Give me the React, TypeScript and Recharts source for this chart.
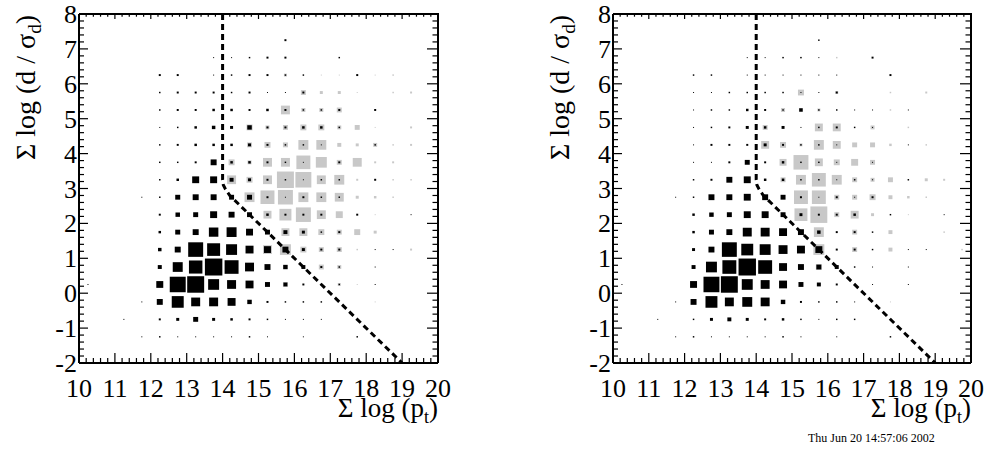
import React from 'react'
import { ScatterChart, Scatter, XAxis, YAxis } from 'recharts'

const FONT = '"Liberation Serif", "Times New Roman", serif'

// bin centres of the 20 x 20 histogram; rows run from the top (7.25) down
const xCenters = [10.25, 10.75, 11.25, 11.75, 12.25, 12.75, 13.25, 13.75, 14.25, 14.75, 15.25, 15.75, 16.25, 16.75, 17.25, 17.75, 18.25, 18.75, 19.25, 19.75]
const yCenters = [7.25, 6.75, 6.25, 5.75, 5.25, 4.75, 4.25, 3.75, 3.25, 2.75, 2.25, 1.75, 1.25, 0.75, 0.25, -0.25, -0.75, -1.25]

const xLabels = [10, 11, 12, 13, 14, 15, 16, 17, 18, 19, 20]
const yLabels = [-2, -1, 0, 1, 2, 3, 4, 5, 6, 7, 8]

// box size per bin (FULL = box fills the whole bin)
const FULL = 18

const leftSig = [
  [0, 0, 0, 0, 0, 0, 0, 0, 0, 0, 0, 2, 0, 0, 0, 0, 0, 0, 0, 0],
  [0, 0, 0, 0, 0, 0, 0, 1, 1, 1.5, 2, 2, 0, 0, 1.5, 0, 0, 0, 0, 0],
  [0, 0, 0, 0, 2, 2, 0, 1, 1.5, 2, 2, 1.5, 1.5, 0, 0, 2, 0, 0, 0, 0],
  [0, 0, 0, 0, 1.5, 2, 2, 2, 1.5, 2, 1, 1, 2, 0, 0, 0, 0, 0, 0, 0],
  [0, 0, 0, 0, 1.5, 2, 2, 2.5, 2.5, 2, 2.5, 2, 1.5, 1.5, 2, 0, 2, 0, 0, 0],
  [0, 0, 0, 0, 1, 1.5, 2.5, 3.5, 3, 4.5, 2, 2, 2.5, 2.5, 1.5, 0, 0, 0, 0, 0],
  [0, 0, 0, 0, 1.5, 2, 2.5, 2.5, 2.5, 3, 2, 1.5, 1.5, 1, 0, 0, 1.5, 0, 0, 0],
  [0, 0, 0, 0, 1.5, 1.5, 2, 6, 2.5, 2.5, 2, 1.5, 1, 0, 2, 0, 0, 0, 0, 0],
  [0, 0, 0, 0, 1.5, 2.5, 7, 7, 4, 3, 2, 1.5, 1, 1.5, 1.5, 0, 2, 0, 0, 0],
  [0, 0, 0, 1, 1.5, 5, 6, 6, 5, 5, 2, 1, 2, 1.5, 1.5, 0, 0, 0, 0, 0],
  [0, 0, 0, 0, 2, 4.5, 5, 7, 6, 5, 2.5, 2, 2, 2, 0, 2, 0, 0, 1, 0],
  [0, 0, 0, 0, 2.5, 5, 6, 9.5, 10, 7, 5, 4, 3, 1.5, 2, 0, 0, 0, 0, 0],
  [0, 0, 0, 0, 3.5, 6, 15, 13, 11, 8, 7, 6, 3, 2, 2, 0, 1, 1, 0, 0],
  [0, 0, 0, 0, 4, 10, 13.5, 17.5, 14, 9, 6, 4.5, 4, 2, 1.5, 0, 1, 0, 0, 0],
  [1, 0, 0, 0, 7, 16, 17, 11, 9, 8, 5, 4, 2, 1.5, 1.5, 0, 1, 0, 0, 0],
  [0, 0, 0, 1, 6, 12, 9, 9, 8, 4.5, 2, 1.5, 1.5, 1.5, 0, 0, 0, 0, 0, 0],
  [0, 0, 1, 0, 2, 3, 5, 3, 2.5, 2, 1.5, 1, 1, 1, 0, 0, 0, 0, 0, 0],
  [0, 0, 0, 1, 1.5, 1, 1, 1, 1, 1.5, 1, 0, 1, 0, 0, 1.5, 0, 0, 0, 0],
]

const leftBkg = [
  [0, 0, 0, 0, 0, 0, 0, 0, 0, 0, 0, 0, 0, 0, 0, 0, 0, 0, 0, 0],
  [0, 0, 0, 0, 0, 0, 0, 0, 0, 0, 0, 0, 0, 0, 0, 0, 0, 0, 0, 0],
  [0, 0, 0, 0, 0, 0, 0, 0, 0, 0, 0, 3, 0, 1, 1, 0, 1, 1.5, 0, 0],
  [0, 0, 0, 0, 0, 0, 0, 0, 0, 0, 0, 0, 5, 3, 3, 1, 0, 1.5, 2, 0],
  [0, 0, 0, 0, 0, 0, 0, 0, 0, 0, 0, 9, 4, 4, 5, 0, 0, 0, 0, 0],
  [0, 0, 0, 0, 0, 0, 0, 0, 0, 6, 4, 5, 6, 6, 4, 5, 1, 0, 2, 0],
  [0, 0, 0, 0, 0, 0, 0, 0, 0, 5, 6, 5, 10, 10, 4, 3, 4, 1.5, 2, 0],
  [0, 0, 0, 0, 0, 0, 0, 0, 6, 4, 9, 9, 14, 11, 5, 9, 2, 2, 0, 0],
  [0, 0, 0, 0, 0, 0, 0, 0, 9, 6, 9, 17, 16, 9, 10, 2, 0, 1.5, 1.5, 0],
  [0, 0, 0, 0, 0, 0, 0, 0, 0, 10, 14, 15, 10, 10, 9, 3, 2.5, 1.5, 0, 0],
  [0, 0, 0, 0, 0, 0, 0, 0, 0, 0, 8, 12, 15, 9, 7, 0, 1, 0, 0, 0],
  [0, 0, 0, 0, 0, 0, 0, 0, 0, 0, 0, 8, 8, 6, 5, 6, 3, 0, 0, 0],
  [0, 0, 0, 0, 0, 0, 0, 0, 0, 0, 9, 11, 6, 5, 5, 1.5, 0, 0, 2, 0],
  [0, 0, 0, 0, 0, 0, 0, 0, 0, 0, 0, 0, 0, 5, 4, 0, 0, 0, 0, 0],
  [0, 0, 0, 0, 0, 0, 0, 0, 0, 0, 0, 5, 0, 0, 3, 1, 0, 0, 0, 0],
  [0, 0, 0, 0, 0, 0, 0, 0, 0, 0, 0, 0, 0, 0, 0, 0, 1, 0, 0, 0],
  [0, 0, 0, 0, 0, 0, 0, 0, 0, 0, 0, 0, 0, 0, 0, 0, 0, 0, 0, 0],
  [0, 0, 0, 0, 0, 0, 0, 0, 0, 0, 0, 0, 0, 0, 0, 0, 0, 0, 0, 0],
]

const rightSig = [
  [0, 0, 0, 0, 0, 0, 0, 0, 0, 0, 0, 1.5, 0, 0, 0, 0, 0, 0, 0, 0],
  [0, 0, 0, 0, 0, 0, 0, 1, 1, 1.5, 1.5, 1, 0, 0, 2, 0, 0, 0, 0, 0],
  [0, 0, 0, 0, 1.5, 1.5, 0, 1, 1, 1, 1, 1, 1, 0, 0, 2, 0, 0, 0, 0],
  [0, 0, 0, 0, 1, 1, 1.5, 1.5, 1.5, 1.5, 1, 1, 2, 0, 0, 0, 0, 0, 0, 0],
  [0, 0, 0, 0, 1, 1.5, 1.5, 2.5, 2, 1.5, 3.5, 1.5, 1.5, 1, 1, 0, 1, 0, 0, 0],
  [0, 0, 0, 0, 1, 1.5, 2, 3, 2.5, 3, 1, 1.5, 2, 1.5, 1, 0, 0, 0, 0, 0],
  [0, 0, 0, 0, 1, 2, 2, 2, 3, 2, 1.5, 1.5, 1, 0, 0, 0, 1, 0, 0, 0],
  [0, 0, 0, 0, 1, 1, 2, 5, 2, 2.5, 1.5, 1.5, 1, 0, 1, 0, 0, 0, 0, 0],
  [0, 0, 0, 0, 1.5, 2, 6, 7, 2.5, 2.5, 1.5, 1.5, 1, 1.5, 1, 0, 1.5, 0, 0, 0],
  [0, 0, 0, 1, 1.5, 6, 6, 7, 6, 5, 2, 1, 2, 1, 2, 0, 0, 0, 0, 0],
  [0, 0, 0, 0, 2.5, 4.5, 5, 7, 7, 5, 3, 2, 2, 2.5, 0, 1.5, 0, 0, 1, 0],
  [0, 0, 0, 0, 2.5, 5, 6, 9, 9, 8, 6, 3.5, 2, 2, 1.5, 0, 0, 0, 0, 0],
  [0, 0, 0, 0, 3, 6, 15, 12, 11, 9, 8, 7, 2, 2, 1.5, 0, 1, 1, 0, 0],
  [0, 0, 0, 0, 4, 11, 14, 17.5, 14, 8, 6, 5, 4, 1.5, 1, 0, 1, 0, 0, 0],
  [1, 0, 0, 0, 7, 16, 17, 11, 9, 8, 5, 4, 2, 1, 1, 0, 1, 0, 0, 0],
  [0, 0, 0, 1, 6, 12, 9, 10, 9, 4.5, 2, 1.5, 1.5, 1, 0, 0, 0, 0, 0, 0],
  [0, 0, 1, 0, 1.5, 3, 4, 3, 2, 2.5, 1.5, 1, 1.5, 1.5, 0, 0, 0, 0, 0, 0],
  [0, 0, 0, 1, 1.5, 1, 1, 1, 1, 1.5, 1, 0, 1, 0, 0, 1.5, 0, 0, 0, 0],
]

const rightBkg = [
  [0, 0, 0, 0, 0, 0, 0, 0, 0, 0, 0, 0, 0, 0, 0, 0, 0, 0, 0, 0],
  [0, 0, 0, 0, 0, 0, 0, 0, 0, 0, 0, 0, 1.5, 0, 0, 0, 0, 0, 0, 0],
  [0, 0, 0, 0, 0, 0, 0, 0, 0, 0, 0, 0, 0, 0, 0, 0, 0, 0, 0, 0],
  [0, 0, 0, 0, 0, 0, 0, 0, 0, 0, 6, 0, 3, 0, 0, 1.5, 0, 2, 0, 0],
  [0, 0, 0, 0, 0, 0, 0, 0, 0, 4, 4, 3, 0, 0, 0, 1.5, 0, 0, 0, 0],
  [0, 0, 0, 0, 0, 0, 0, 0, 5, 0, 0, 8, 8, 0, 4, 0, 1.5, 0, 0, 0],
  [0, 0, 0, 0, 0, 0, 0, 0, 8, 6, 3, 10, 8, 5, 5, 2.5, 0, 1.5, 0, 0],
  [0, 0, 0, 0, 0, 0, 0, 0, 0, 7, 15, 8, 6, 7, 5, 0, 0, 0, 0, 0],
  [0, 0, 0, 0, 0, 0, 0, 0, 0, 5, 10, 14, 10, 5, 4, 5, 0, 3, 2, 0],
  [0, 0, 0, 0, 0, 0, 0, 0, 0, 0, 14, 14, 5, 5, 6, 4, 2.5, 1.5, 0, 0],
  [0, 0, 0, 0, 0, 0, 0, 0, 0, 0, 13, 17, 5, 8, 3, 0, 1, 0, 0, 0],
  [0, 0, 0, 0, 0, 0, 0, 0, 0, 0, 0, 10, 0, 5, 0, 4, 0, 0, 1.5, 0],
  [0, 0, 0, 0, 0, 0, 0, 0, 0, 0, 0, 11, 0, 5, 0, 4, 0, 0, 0, 1.5],
  [0, 0, 0, 0, 0, 0, 0, 0, 0, 0, 0, 6, 0, 0, 0, 0, 0, 0, 0, 0],
  [0, 0, 0, 0, 0, 0, 0, 0, 0, 0, 0, 0, 0, 0, 0, 0, 0, 0, 0, 0],
  [0, 0, 0, 0, 0, 0, 0, 0, 0, 0, 0, 0, 0, 0, 0, 1, 0, 0, 0, 0],
  [0, 0, 0, 0, 0, 0, 0, 0, 0, 0, 0, 0, 0, 0, 0, 0, 0, 0, 0, 0],
  [0, 0, 0, 0, 0, 0, 0, 0, 0, 0, 0, 0, 0, 0, 0, 0, 0, 0, 0, 0],
]

// selection cut: vertical at 14, rounded knee, then the diagonal down to (19,-2)
const cutLine = [
  { x: 14, y: 8 },
  { x: 14, y: 3.25 },
  { x: 14.02, y: 3.1 },
  { x: 14.08, y: 2.98 },
  { x: 14.2, y: 2.8 },
  { x: 19, y: -2 },
]

const toPoints = (grid: number[][]) =>
  grid.flatMap((row, i) =>
    row.map((v, j) => ({ x: xCenters[j], y: yCenters[i], v })).filter((p) => p.v > 0)
  )

// tick positions: majors at the labels, 4 minors in between
const minorSteps = (major: number[]) => {
  const out: number[] = []
  for (let i = 0; i < major.length - 1; i++) {
    for (let k = 0; k < 5; k++) out.push(Math.round((major[i] + k * 0.2 * (major[i + 1] - major[i])) * 100) / 100)
  }
  out.push(major[major.length - 1])
  return out
}
const xTicks = minorSteps(xLabels)
const yTicks = minorSteps(yLabels)
const isMajor = (v: number) => Math.abs(v - Math.round(v)) < 1e-6

const X_MIN = xLabels[0]
const X_MAX = xLabels[xLabels.length - 1]
const Y_MIN = yLabels[0]
const Y_MAX = yLabels[yLabels.length - 1]

// tick positions along the top and right edges of the frame
const topTicks = xTicks.map((v) => ({ x: v, y: Y_MAX }))
const rightTicks = yTicks.map((v) => ({ x: X_MAX, y: v }))

const LEFT = 79
const TOP = 14
const PLOT_H = 349

const BottomTick = ({ x, y, payload }: any) => {
  const major = isMajor(payload.value)
  return (
    <g>
      <line x1={x} x2={x} y1={y} y2={y - (major ? 10 : 5)} stroke="#000" strokeWidth={1.2} />
      {major && (
        <text x={x} y={y + 34} textAnchor="middle" fontSize={26} fontFamily={FONT} fill="#000">
          {Math.round(payload.value)}
        </text>
      )}
    </g>
  )
}

const LeftTick = ({ x, y, payload }: any) => {
  const major = isMajor(payload.value)
  return (
    <g>
      <line x1={x} x2={x + (major ? 9 : 5)} y1={y} y2={y} stroke="#000" strokeWidth={1.2} />
      {major && (
        <text x={x - 2} y={y + 9} textAnchor="end" fontSize={26} fontFamily={FONT} fill="#000">
          {Math.round(payload.value)}
        </text>
      )}
    </g>
  )
}

// inward tick marks hanging from the top edge / pointing left from the right edge
const TopMark = (p: any) => (
  <line x1={p.cx} x2={p.cx} y1={p.cy} y2={p.cy + (isMajor(p.payload.x) ? 5 : 2.7)} stroke="#000" strokeWidth={1.2} />
)
const RightMark = (p: any) => (
  <line x1={p.cx} x2={p.cx - (isMajor(p.payload.y) ? 11 : 5.5)} y1={p.cy} y2={p.cy} stroke="#000" strokeWidth={1.2} />
)

const YTitle = ({ viewBox }: any) => {
  const bx = viewBox.x + 35
  const by = viewBox.y + 1
  return (
    <text transform={`rotate(-90 ${bx} ${by})`} x={bx} y={by} textAnchor="end" fontSize={28} fontFamily={FONT} fill="#000">
      Σ log (d / σ<tspan fontSize={19} dy={6}>d</tspan>
      <tspan dy={-6}>)</tspan>
    </text>
  )
}

const XTitle = ({ viewBox }: any) => (
  <text x={viewBox.x + viewBox.width} y={viewBox.y + 54} textAnchor="end" fontSize={27} fontFamily={FONT} fill="#000">
    Σ log (p<tspan fontSize={18} dy={6}>t</tspan>
    <tspan dy={-6}>)</tspan>
  </text>
)

interface PanelProps {
  width: number
  plotW: number
  sig: number[][]
  bkg: number[][]
}

const Panel: React.FC<PanelProps> = ({ width, plotW, sig, bkg }) => {
  const binW = plotW / 20
  const binH = PLOT_H / 20
  const box = (fill: string) => (p: any) => {
    const f = p.payload.v / FULL
    const w = f * binW
    const h = f * binH
    return <rect x={p.cx - w / 2} y={p.cy - h / 2} width={w} height={h} fill={fill} />
  }
  const axisLine = { stroke: '#000', strokeWidth: 2 }

  return (
    <div style={{ position: 'relative', width, height: 458 }}>
      <ScatterChart width={width} height={458} margin={{ top: TOP, right: width - LEFT - plotW, bottom: 0, left: 0 }}>
        <XAxis
          type="number"
          dataKey="x"
          domain={[X_MIN, X_MAX]}
          ticks={xTicks}
          interval={0}
          allowDataOverflow
          height={458 - TOP - PLOT_H}
          tickSize={0}
          tickMargin={0}
          tickLine={false}
          axisLine={axisLine}
          tick={(p: any) => <BottomTick {...p} />}
          label={(p: any) => <XTitle {...p} />}
        />
        <YAxis
          type="number"
          dataKey="y"
          domain={[Y_MIN, Y_MAX]}
          ticks={yTicks}
          interval={0}
          allowDataOverflow
          width={LEFT}
          tickSize={0}
          tickMargin={0}
          tickLine={false}
          axisLine={axisLine}
          tick={(p: any) => <LeftTick {...p} />}
          label={(p: any) => <YTitle {...p} />}
        />
        <Scatter data={toPoints(bkg)} shape={box('#c8c8c8')} isAnimationActive={false} />
        <Scatter data={toPoints(sig)} shape={box('#000')} isAnimationActive={false} />
        <Scatter
          data={cutLine}
          line={{ stroke: '#000', strokeWidth: 3, strokeDasharray: '6 4' }}
          shape={() => <g />}
          isAnimationActive={false}
        />
        <Scatter data={topTicks} shape={TopMark} isAnimationActive={false} />
        <Scatter data={rightTicks} shape={RightMark} isAnimationActive={false} />
      </ScatterChart>
      {/* top and right edges of the frame box */}
      <div
        style={{
          position: 'absolute',
          left: LEFT,
          top: TOP - 1,
          width: plotW + 1,
          height: PLOT_H + 1,
          borderTop: '2px solid #000',
          borderRight: '2px solid #000',
          boxSizing: 'border-box',
          pointerEvents: 'none',
        }}
      />
    </div>
  )
}

export default function App() {
  return (
    <div style={{ position: 'absolute', left: 0, top: 0, width: 987, height: 458, background: '#fff' }}>
      <div style={{ position: 'absolute', left: 0, top: 0 }}>
        <Panel width={494} plotW={359} sig={leftSig} bkg={leftBkg} />
      </div>
      <div style={{ position: 'absolute', left: 534, top: 0 }}>
        <Panel width={453} plotW={358} sig={rightSig} bkg={rightBkg} />
      </div>
      <div
        style={{
          position: 'absolute',
          left: 808,
          top: 431,
          fontFamily: FONT,
          fontSize: 12,
          color: '#000',
          whiteSpace: 'nowrap',
        }}
      >
        Thu Jun 20 14:57:06 2002
      </div>
    </div>
  )
}
